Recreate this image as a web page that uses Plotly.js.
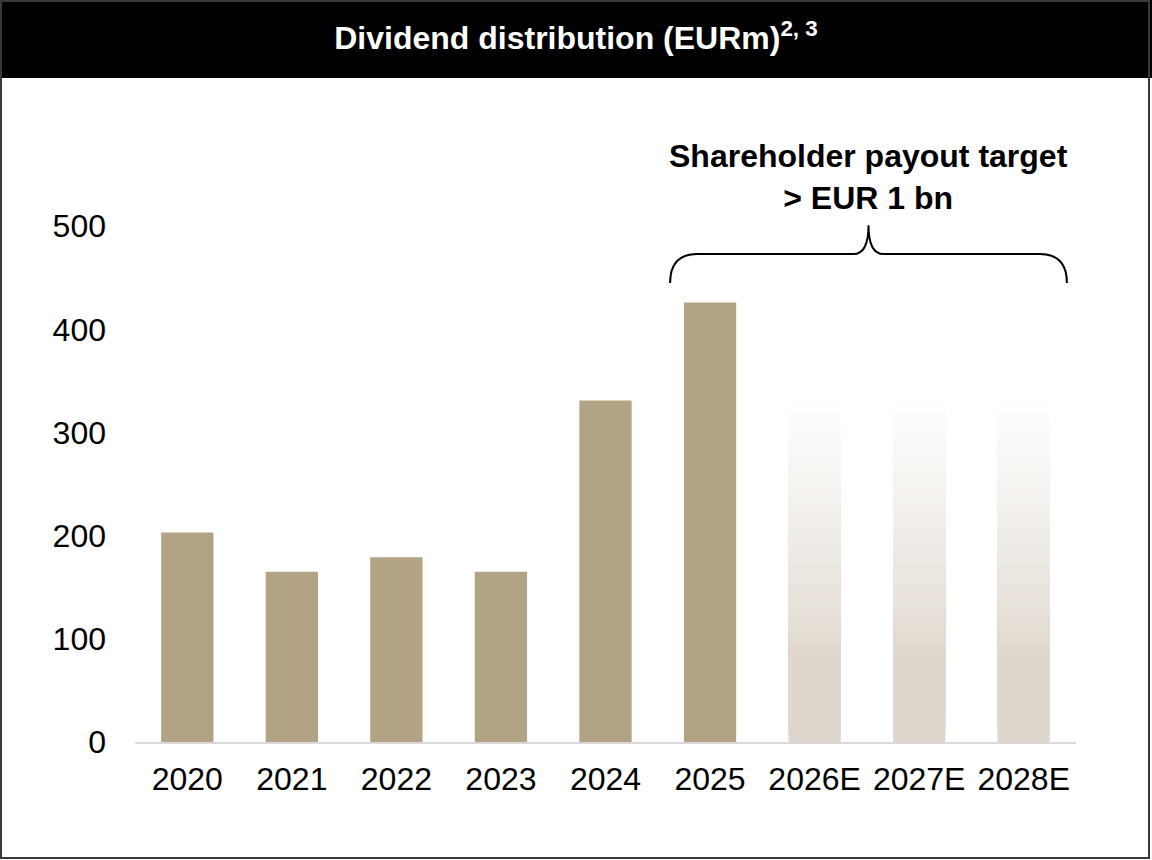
<!DOCTYPE html>
<html>
<head>
<meta charset="utf-8">
<script src="https://cdn.plot.ly/plotly-3.0.1.min.js"></script>
<style>
  html, body { margin: 0; padding: 0; background: #ffffff; }
  #wrap { position: relative; width: 1152px; height: 860px; overflow: hidden; }
  #chart { width: 1152px; height: 860px; }
  #frame { position: absolute; left: 0; top: 0; width: 1150px; height: 859px;
           border: 2px solid #3a3a3a; box-sizing: border-box; pointer-events: none; }
</style>
</head>
<body>
<div id="wrap">
  <div id="chart"></div>
  <div id="frame"></div>
</div>
<script>
// ---- Data ----
const actualYears = ['2020', '2021', '2022', '2023', '2024', '2025'];
const actualValues = [203, 165, 179, 165, 331, 426];
const estimateYears = ['2026E', '2027E', '2028E'];
const estimatePlaceholder = [325, 325, 325]; // faded bars (no value disclosed)
const yTickValues = [0, 100, 200, 300, 400, 500];
const chartTitle = 'Dividend distribution (EURm)<sup>2, 3</sup>';
const payoutText = 'Shareholder payout target<br>> EUR 1 bn';

// ---- Layout geometry ----
const W = 1152, H = 860;
const M = { l: 135, r: 76, t: 123, b: 118 };
const plotW = W - M.l - M.r, plotH = H - M.t - M.b;
const pxToPaperX = px => (px - M.l) / plotW;
const pxToPaperY = py => (H - M.b - py) / plotH;

const FONT = 'Liberation Sans, Arial, Helvetica, sans-serif';
const solidColor = '#B3A385';
const fadeBase = [223, 215, 205];

const traces = [];
traces.push({
  type: 'bar',
  x: actualYears,
  y: actualValues,
  marker: { color: solidColor, line: { width: 0 } },
  hoverinfo: 'x+y',
  showlegend: false
});

// Faded (gradient) estimate bars built from overlapping slices
const nSlices = 60;
const solidFrac = 0.24;
for (let i = 0; i < nSlices; i++) {
  const f = i / nSlices;
  let t = f <= solidFrac ? 0 : (f - solidFrac) / (1 - solidFrac);
  t = Math.pow(t, 0.85);
  const c = fadeBase.map(v => Math.round(v + (255 - v) * Math.min(1, t * 0.99)));
  traces.push({
    type: 'bar',
    x: estimateYears,
    base: estimatePlaceholder.map(v => v * f),
    y: estimatePlaceholder.map(v => v * (1 - f)),
    marker: { color: `rgb(${c[0]},${c[1]},${c[2]})`, line: { width: 0 } },
    hoverinfo: 'skip',
    showlegend: false
  });
}

const allCats = actualYears.concat(estimateYears);
const iStart = actualYears.length - 1; // 2025
const iEnd = allCats.length - 1;       // 2028E
const bx0 = iStart - 0.382, bx1 = iEnd + 0.413, bmid = (bx0 + bx1) / 2;
const yLow = 445, yMid = 473, yTop = 501;
const bracePath =
  `M ${bx0},${yLow} Q ${bx0},${yMid} ${bx0 + 0.26},${yMid} ` +
  `L ${bmid - 0.145},${yMid} Q ${bmid},${yMid} ${bmid},${yTop} ` +
  `Q ${bmid},${yMid} ${bmid + 0.145},${yMid} ` +
  `L ${bx1 - 0.26},${yMid} Q ${bx1},${yMid} ${bx1},${yLow}`;

const layout = {
  width: W, height: H,
  margin: M,
  paper_bgcolor: '#ffffff',
  plot_bgcolor: '#ffffff',
  barmode: 'overlay',
  bargap: 0.5,
  showlegend: false,
  font: { family: FONT, color: '#000000', size: 32 },
  title: {
    text: '<b>' + chartTitle + '</b>',
    font: { family: FONT, size: 32, color: '#ffffff' },
    x: 0.5, xref: 'container', xanchor: 'center',
    y: 1 - 38 / H, yref: 'container', yanchor: 'middle'
  },
  xaxis: {
    type: 'category',
    categoryorder: 'array',
    categoryarray: allCats,
    range: [-0.5, allCats.length - 0.5],
    showgrid: false, zeroline: false,
    showline: true, linecolor: '#d9d9d9', linewidth: 2,
    ticks: '',
    ticklabelstandoff: 8,
    tickfont: { family: FONT, size: 32, color: '#000000' },
    fixedrange: true
  },
  yaxis: {
    range: [0, 600],
    tickvals: yTickValues,
    showgrid: false, zeroline: false, showline: false,
    ticks: '',
    ticklabelstandoff: 28,
    tickfont: { family: FONT, size: 32, color: '#000000' },
    fixedrange: true
  },
  shapes: [
    {
      type: 'rect', xref: 'paper', yref: 'paper', layer: 'below',
      x0: pxToPaperX(0), x1: pxToPaperX(W),
      y0: pxToPaperY(78), y1: pxToPaperY(0),
      fillcolor: '#000000', line: { width: 0 }
    },
    {
      type: 'path', xref: 'x', yref: 'y', layer: 'above',
      path: bracePath,
      line: { color: '#000000', width: 2 }
    }
  ],
  annotations: [
    {
      xref: 'x', yref: 'y',
      x: bmid, y: 548,
      xanchor: 'center', yanchor: 'middle',
      text: '<b>' + payoutText + '</b>',
      showarrow: false,
      font: { family: FONT, size: 32, color: '#000000' },
      align: 'center'
    }
  ]
};

Plotly.newPlot('chart', traces, layout, { displayModeBar: false, staticPlot: true });
</script>
</body>
</html>
